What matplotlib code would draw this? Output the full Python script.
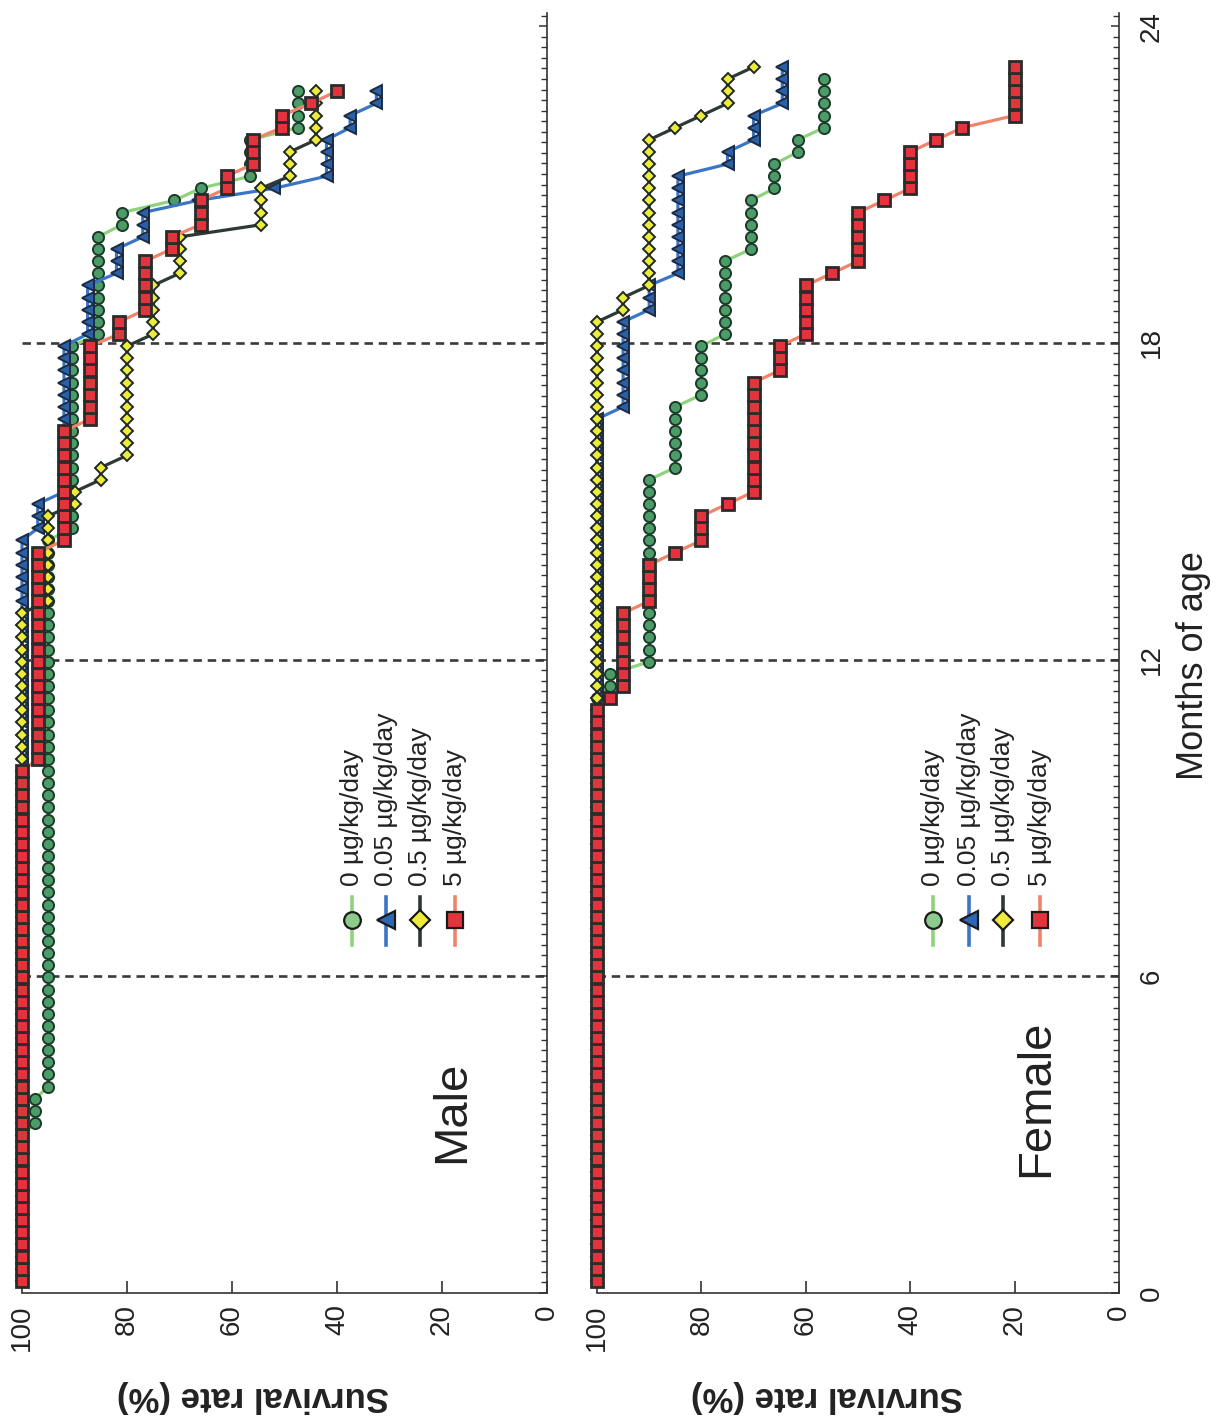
import numpy as np
import matplotlib
matplotlib.use("Agg")
import matplotlib.pyplot as plt
from matplotlib.ticker import MultipleLocator, FixedLocator

plt.rcParams['font.family'] = ['Liberation Sans', 'DejaVu Sans']

# ---------------- data (weekly observations; plateau value + first week of plateau) ----
WEEK_TO_MONTH = 7 / 30.4375

dose_labels = ["0 \u00b5g/kg/day", "0.05 \u00b5g/kg/day", "0.5 \u00b5g/kg/day", "5 \u00b5g/kg/day"]

# Male
male_0_surv = [100, 97.5, 95, 90.5, 85.5, 81, 71, 66, 56.5, 47.5]
male_0_from = [1, 14, 17, 63, 79, 88, 90, 91, 92, 96]
male_005_surv = [100, 97, 92, 87.5, 82, 77, 66.5, 52, 42, 37.5, 32.5]
male_005_from = [1, 63, 66, 79, 84, 87, 90, 91, 92, 96, 98]
male_05_surv = [100, 95, 90, 85, 80, 75, 70, 54.5, 49, 44]
male_05_from = [1, 57, 65, 67, 69, 79, 84, 88, 92, 95]
male_5_surv = [100, 97, 92, 87, 81.5, 76.5, 71.5, 66, 61, 56, 50.5, 45, 40]
male_5_from = [1, 44, 62, 72, 79, 81, 86, 88, 91, 93, 96, 98, 99]
male_last_week = [99, 99, 99, 99]

# Female
female_0_surv = [100, 97.5, 90, 85, 80, 75.5, 70.5, 66, 61.5, 56.5]
female_0_from = [1, 50, 52, 68, 74, 79, 86, 91, 94, 96]
female_005_surv = [100, 95, 90, 84.5, 75, 70, 64.5]
female_005_from = [1, 73, 81, 84, 93, 95, 98]
female_05_surv = [100, 95, 90, 85, 80, 75, 70]
female_05_from = [1, 81, 83, 96, 97, 98, 101]
female_5_surv = [100, 97.5, 95, 90, 85, 80, 75, 70, 65, 60, 55, 50, 45, 40, 35, 30, 20]
female_5_from = [1, 49, 50, 57, 61, 62, 65, 66, 76, 79, 84, 85, 90, 91, 95, 96, 97]
female_last_week = [100, 101, 101, 101]

month_ticks = [0, 6, 12, 18, 24]
surv_ticks = [0, 20, 40, 60, 80, 100]
ref_months = [6, 12, 18]


def expand(surv, start, last):
    bounds = list(start[1:]) + [last + 1]
    weeks, vals = [], []
    for v, a, b in zip(surv, start, bounds):
        for w in range(a, b):
            weeks.append(w)
            vals.append(v)
    return np.array(weeks) * WEEK_TO_MONTH, np.array(vals, dtype=float)


styles = [
    dict(lc='#8ed37c', marker='o', mfc='#4c9c68', mec='#1c3a2a', ms=8.0, mew=1.4,
         lmfc='#8ccb8c'),
    dict(lc='#3b76c6', marker='<', mfc='#2b5fa6', mec='#1b2b44', ms=9.0, mew=1.4,
         lmfc='#2f66b4'),
    dict(lc='#2d3934', marker='D', mfc='#eeec3a', mec='#1f2a24', ms=6.5, mew=1.4,
         lmfc='#eeec3a'),
    dict(lc='#f0846a', marker='s', mfc='#e2343c', mec='#2b2b2b', ms=8.0, mew=2.0,
         lmfc='#e2343c'),
]

W, H = 1216, 1424
fig = plt.figure(figsize=(W / 100, H / 100), dpi=100)
bottom = (H - 1293) / H
height = 1280 / H
ax_m = fig.add_axes([22 / W, bottom, 525 / W, height])
ax_f = fig.add_axes([597 / W, bottom, 522 / W, height])

male = [(male_0_surv, male_0_from), (male_005_surv, male_005_from),
        (male_05_surv, male_05_from), (male_5_surv, male_5_from)]
female = [(female_0_surv, female_0_from), (female_005_surv, female_005_from),
          (female_05_surv, female_05_from), (female_5_surv, female_5_from)]

spine_c = '#333333'

for ax, groups, lasts, title, tpos, legx in [
        (ax_m, male, male_last_week, 'Male', (0.819, 0.1415), [0.629, 0.693, 0.758, 0.825]),
        (ax_f, female, female_last_week, 'Female', (0.841, 0.152), [0.644, 0.712, 0.778, 0.849])]:
    ax.set_xlim(100, 0)
    ax.set_ylim(0, 24.25)
    for m in ref_months:
        ax.axhline(m, color='#3a3a3a', lw=1.9, ls=(0, (3.2, 2.2)), zorder=1)
    for (surv, start), last, st in zip(groups, lasts, styles):
        t, s = expand(surv, start, last)
        ax.plot(s, t, color=st['lc'], lw=2.3, marker=st['marker'], ms=st['ms'],
                mfc=st['mfc'], mec=st['mec'], mew=st['mew'], clip_on=False, zorder=3)
    # spines
    for sp in ['top', 'left']:
        ax.spines[sp].set_visible(False)
    for sp in ['bottom', 'right']:
        ax.spines[sp].set_color(spine_c)
        ax.spines[sp].set_linewidth(1.2)
    ax.yaxis.tick_right()
    ax.xaxis.set_major_locator(FixedLocator(surv_ticks))
    ax.yaxis.set_major_locator(FixedLocator(month_ticks))
    ax.yaxis.set_minor_locator(MultipleLocator(0.2))
    ax.tick_params(axis='x', direction='in', length=9, width=1.2, color=spine_c,
                   labelsize=20, labelrotation=90, pad=8, labelcolor='#222222')
    ax.tick_params(axis='y', which='major', direction='in', length=6, width=1.1,
                   color=spine_c, labelsize=20, labelrotation=90, pad=14,
                   labelcolor='#222222')
    ax.tick_params(axis='y', which='minor', direction='in', length=4.5, width=1.0,
                   color=spine_c)
    ax.set_xticklabels([str(v) for v in surv_ticks])
    ax.set_xlabel('Survival rate (%)', fontsize=25, fontweight='bold', rotation=180,
                  color='#222222')
    ax.xaxis.label.set_verticalalignment('center')
    ax.xaxis.set_label_coords(0.44, -0.081)
    ax.text(tpos[0], tpos[1], title, rotation=90, fontsize=34, ha='center', va='center',
            transform=ax.transAxes, color='#222222')
    # legend (manual, rotated)
    for lx, lab, st in zip(legx, dose_labels, styles):
        ax.plot([lx, lx], [0.272, 0.309], color=st['lc'], lw=2.6, transform=ax.transAxes,
                clip_on=False, zorder=4)
        ax.plot([lx], [0.2915], marker=st['marker'], ms=st['ms'] * 1.5, mfc=st['lmfc'],
                mec='#1a1a1a', mew=1.6, transform=ax.transAxes, clip_on=False, zorder=5)
        ax.text(lx, 0.318, lab, rotation=90, rotation_mode='anchor', ha='left',
                va='center', fontsize=19, transform=ax.transAxes, color='#222222')

ax_m.set_yticklabels([])
ax_f.set_yticklabels([str(v) for v in month_ticks])
for lab in ax_f.get_yticklabels():
    lab.set_va('center')
ax_f.yaxis.set_label_position('right')
ax_f.set_ylabel('Months of age', fontsize=26, rotation=90, color='#222222')
ax_f.yaxis.label.set_verticalalignment('center')
ax_f.yaxis.set_label_coords(1.142, 0.49)

fig.savefig('out.png', dpi=100)
